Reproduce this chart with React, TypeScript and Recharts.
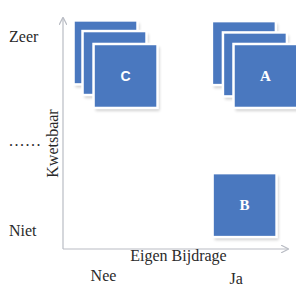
import { ScatterChart, Scatter, XAxis, YAxis, Label } from "recharts";

// squares (back to front per stack)
const boxLabels = ["", "", "C", "", "", "A", "B"];
const boxX = [18.9, 22.9, 27.8, 80.4, 85.3, 90, 80.7];
const boxY = [85.1, 80.5, 74.9, 84.8, 79.9, 74.9, 19];

const xTickValues = [18, 77];
const xTickLabels = ["Nee", "Ja"];
const yTickValues = [8, 47, 92];
const yTickLabels = ["Niet", "......", "Zeer"];

const data = boxX.map((x, i) => ({ x, y: boxY[i], label: boxLabels[i] }));

const BLUE = "#4A78BF";
const AXIS = "#b9bcc4";
const TEXT = "#2a2a2a";
const SERIF = "'Liberation Serif', 'DejaVu Serif', serif";
const SANS = "'Liberation Sans', Arial, sans-serif";
const SIZE = 64;

// Nee sits a bit higher than Ja in the original
const xTickDy: Record<string, number> = { Nee: 26, Ja: 29 };

function Square(props: any) {
  const { cx, cy, payload } = props;
  const h = SIZE / 2;
  const isSans = payload.label === "C";
  return (
    <g>
      <rect x={cx - h + 2} y={cy - h + 3} width={SIZE} height={SIZE} fill="#000" opacity={0.18} filter="url(#blur)" />
      <rect x={cx - h} y={cy - h} width={SIZE} height={SIZE} fill={BLUE} stroke="#fff" strokeWidth={2.5} />
      {payload.label && (
        <text
          x={cx}
          y={cy}
          textAnchor="middle"
          dominantBaseline="central"
          fill="#fff"
          fontFamily={isSans ? SANS : SERIF}
          fontWeight="bold"
          fontSize={isSans ? 14 : 15}
        >
          {payload.label}
        </text>
      )}
    </g>
  );
}

function XTick(props: any) {
  const { x, y, payload } = props;
  const label = xTickLabels[xTickValues.indexOf(payload.value)];
  return (
    <text x={x} y={y + xTickDy[label]} textAnchor="middle" dominantBaseline="central" fill={TEXT} fontFamily={SERIF} fontSize={16}>
      {label}
    </text>
  );
}

function YTick(props: any) {
  const { y, payload } = props;
  const label = yTickLabels[yTickValues.indexOf(payload.value)];
  return (
    <text x={9} y={y} textAnchor="start" dominantBaseline="central" fill={TEXT} fontFamily={SERIF} fontSize={16} letterSpacing={label.startsWith(".") ? 1.5 : 0}>
      {label}
    </text>
  );
}

export default function App() {
  return (
    <div style={{ position: "absolute", left: 0, top: 0, width: 296, height: 285, background: "#fff", overflow: "hidden" }}>
      <ScatterChart width={296} height={285} margin={{ top: 18, right: 8, bottom: 0, left: 0 }}>
        <defs>
          <marker id="arrow" viewBox="0 0 10 10" refX="9" refY="5" markerWidth="8" markerHeight="8" markerUnits="userSpaceOnUse" orient="auto-start-reverse">
            <path d="M0,0 L10,5 L0,10" fill="none" stroke={AXIS} strokeWidth={1.5} />
          </marker>
          <filter id="blur" x="-20%" y="-20%" width="140%" height="140%">
            <feGaussianBlur stdDeviation="1.5" />
          </filter>
        </defs>
        <XAxis
          type="number"
          dataKey="x"
          domain={[0, 100]}
          ticks={xTickValues}
          tick={<XTick />}
          tickLine={false}
          tickSize={0}
          tickMargin={0}
          height={36}
          axisLine={{ stroke: AXIS, strokeWidth: 1.2, markerEnd: "url(#arrow)" }}
        >
          <Label value="Eigen Bijdrage" position="insideTop" offset={1} dx={3} fill={TEXT} fontFamily={SERIF} fontSize={16} />
        </XAxis>
        <YAxis
          type="number"
          dataKey="y"
          domain={[0, 100]}
          ticks={yTickValues}
          tick={<YTick />}
          tickLine={false}
          width={63}
          axisLine={{ stroke: AXIS, strokeWidth: 1.2, markerStart: "url(#arrow)" }}
        >
          <Label value="Kwetsbaar" angle={-90} position="center" dx={21} dy={10} fill={TEXT} fontFamily={SERIF} fontSize={16} />
        </YAxis>
        <Scatter data={data} shape={<Square />} isAnimationActive={false} />
      </ScatterChart>
    </div>
  );
}
